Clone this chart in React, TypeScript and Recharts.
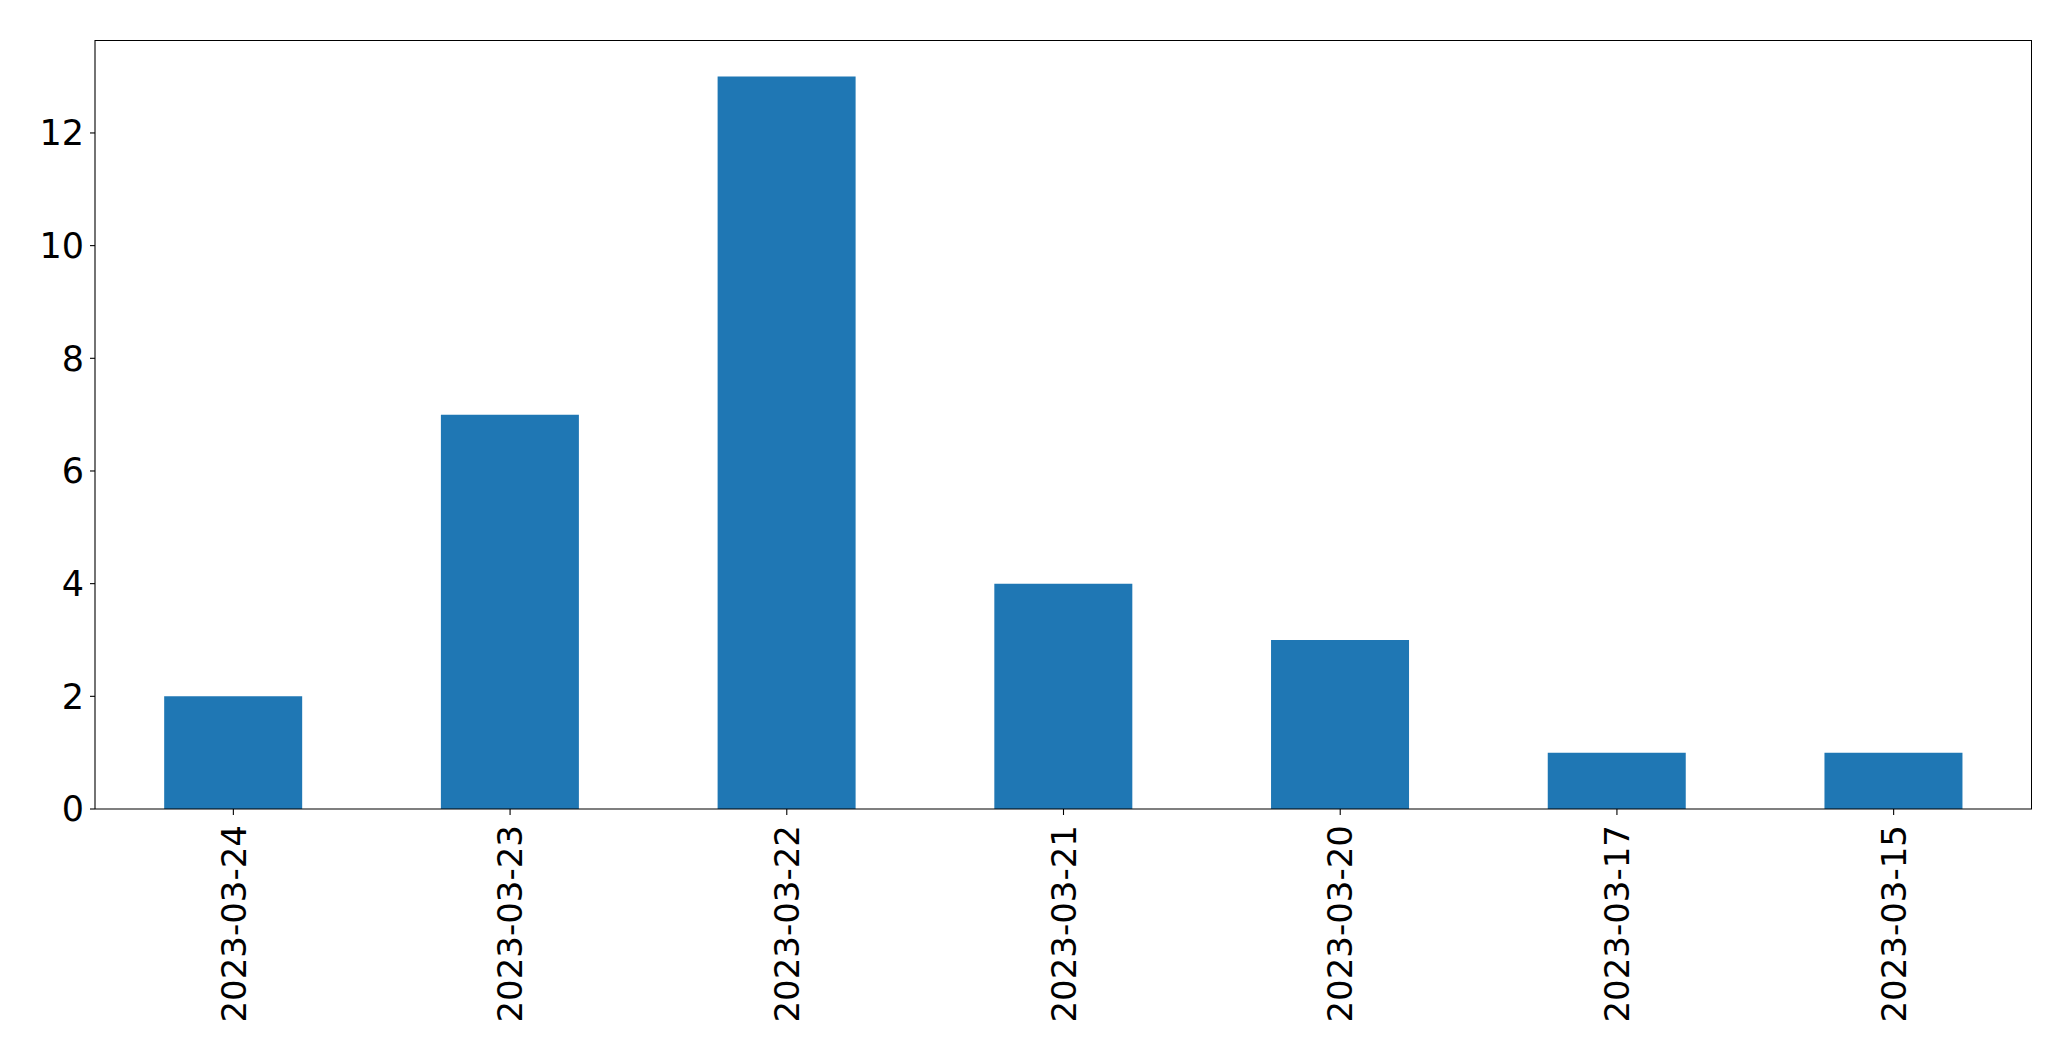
import { Bar, BarChart, XAxis, YAxis } from 'recharts';

const dates = ['2023-03-24', '2023-03-23', '2023-03-22', '2023-03-21', '2023-03-20', '2023-03-17', '2023-03-15'];
const counts = [2, 7, 13, 4, 3, 1, 1];
const yTicks = [0, 2, 4, 6, 8, 10, 12];

const data = dates.map((d, i) => ({ date: d, count: counts[i] }));

const FONT = 'DejaVu Sans, sans-serif';

const DateTick = (props: any) => {
  const { x, y, payload } = props;
  return (
    <g transform={`translate(${x},${y + 8})`}>
      <text
        transform="rotate(-90)"
        textAnchor="end"
        dy="0.36em"
        fontFamily={FONT}
        fontSize={34}
        fill="#000"
      >
        {payload.value}
      </text>
    </g>
  );
};

export default function App() {
  return (
    <div style={{ position: 'absolute', left: 0, top: 0, width: 2071, height: 1061, background: '#fff' }}>
      <BarChart
        width={2071}
        height={1061}
        data={data}
        margin={{ top: 40, right: 39, bottom: 0, left: 0 }}
        barCategoryGap="25%"
      >
        <XAxis
          dataKey="date"
          height={252}
          interval={0}
          tick={<DateTick />}
          tickSize={6}
          stroke="#000"
          axisLine={{ stroke: '#000', strokeWidth: 1.1 }}
          tickLine={{ stroke: '#000', strokeWidth: 1.1 }}
        />
        <YAxis
          width={95}
          type="number"
          domain={[0, 13.65]}
          allowDataOverflow
          ticks={yTicks}
          interval={0}
          tickSize={5}
          tickMargin={6}
          stroke="#000"
          tick={{ fontFamily: FONT, fontSize: 35, fill: '#000' }}
          axisLine={{ stroke: '#000', strokeWidth: 1.1 }}
          tickLine={{ stroke: '#000', strokeWidth: 1.1 }}
        />
        <Bar dataKey="count" fill="#1f77b4" isAnimationActive={false} />
      </BarChart>
      {/* top and right spines */}
      <div
        style={{
          position: 'absolute',
          left: 95,
          top: 40,
          width: 1937,
          height: 769,
          boxSizing: 'border-box',
          borderTop: '1px solid #000',
          borderRight: '1px solid #000',
          pointerEvents: 'none',
        }}
      />
    </div>
  );
}
